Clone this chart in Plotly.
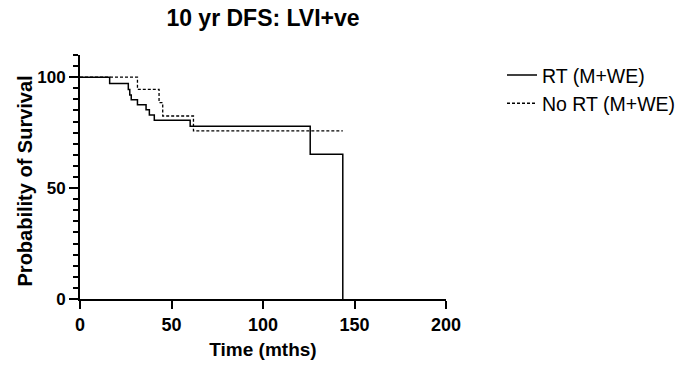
import plotly.graph_objects as go

# Data (time in months, survival in %)
rt_time = [0, 16.2, 26.4, 27.2, 28.0, 31.4, 36.1, 37.9, 40.6, 60.2, 125.8, 143.6]
rt_surv = [100, 97.2, 94.4, 92.0, 89.8, 87.6, 85.3, 82.9, 80.6, 77.9, 65.2, 0]

nort_time = [0, 31.4, 43.2, 45.2, 62.0, 143.6]
nort_surv = [100, 94.5, 88.5, 82.5, 75.8, 75.8]

x_ticks = [0, 50, 100, 150, 200]
y_major_step = 50
y_minor_step = 5

FONT = "Arial, Liberation Sans, sans-serif"

fig = go.Figure()
fig.add_trace(go.Scatter(x=rt_time, y=rt_surv, mode="lines", line_shape="hv",
                         name="RT (M+WE)", line=dict(color="black", width=1.5)))
fig.add_trace(go.Scatter(x=nort_time, y=nort_surv, mode="lines", line_shape="hv",
                         name="No RT (M+WE)",
                         line=dict(color="black", width=1.3, dash="3px,2px")))

fig.update_layout(
    width=679, height=373,
    margin=dict(l=80, r=233, t=55, b=74, autoexpand=False),
    paper_bgcolor="white", plot_bgcolor="white",
    font=dict(family=FONT, color="black"),
    title=dict(text="10 yr DFS: LVI+ve", x=0.5, xref="paper", y=1 - 18 / 373,
               yanchor="middle", xanchor="center",
               font=dict(size=23, weight="bold", family=FONT, color="black")),
    legend=dict(x=1.153, y=0.997, xanchor="left", yanchor="top",
                font=dict(size=19.5, family=FONT, color="black"),
                bgcolor="rgba(0,0,0,0)"),
    showlegend=True,
    xaxis=dict(
        range=[0, 200], tickmode="array", tickvals=x_ticks,
        ticks="outside", ticklen=8, tickwidth=2, tickcolor="black",
        showline=True, linewidth=2, linecolor="black",
        showgrid=False, zeroline=False,
        tickfont=dict(size=18, weight="bold", family=FONT, color="black"),
        title=dict(text="Time (mths)", standoff=9,
                   font=dict(size=19, weight="bold", family=FONT, color="black")),
    ),
    yaxis=dict(
        range=[0, 110], tick0=0, dtick=y_major_step,
        ticks="outside", ticklen=9, tickwidth=2, tickcolor="black",
        minor=dict(tick0=0, dtick=y_minor_step, ticks="outside", ticklen=5,
                   tickwidth=2, tickcolor="black", showgrid=False),
        showline=True, linewidth=2, linecolor="black",
        showgrid=False, zeroline=False,
        tickfont=dict(size=17, weight="bold", family=FONT, color="black"),
    ),
    annotations=[dict(
        text="Probability of Survival", textangle=-90,
        x=0, xref="paper", xanchor="center", xshift=-55,
        y=0.4816, yref="paper", yanchor="middle", showarrow=False,
        font=dict(size=20, weight="bold", family=FONT, color="black"),
    )],
)

fig.write_html("out.html")
